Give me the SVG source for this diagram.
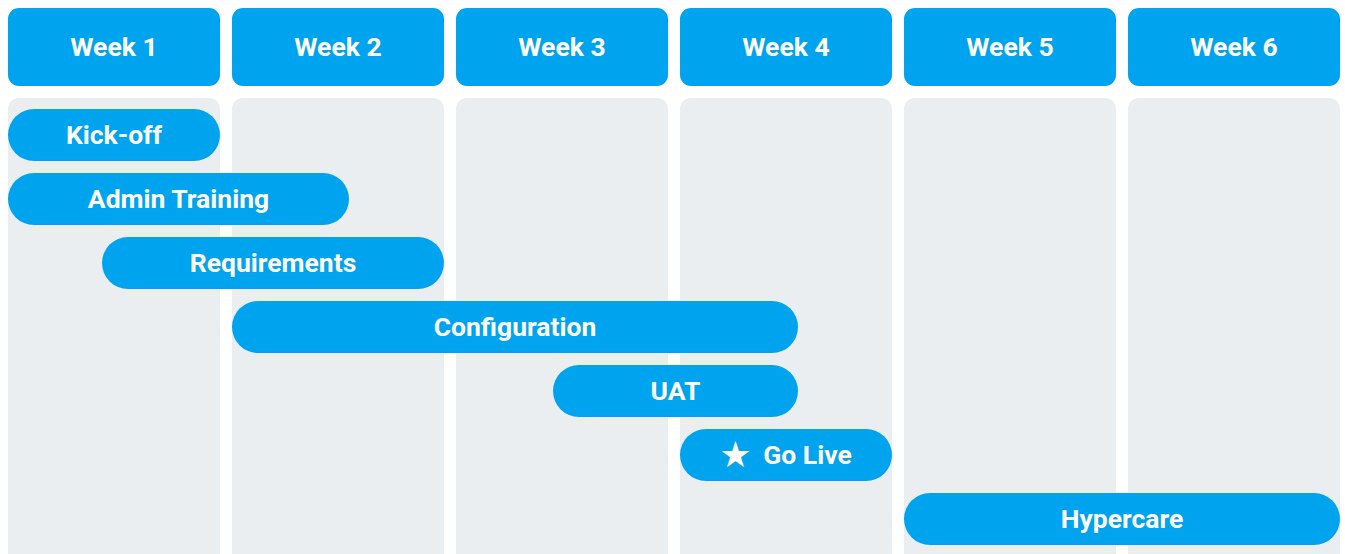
<svg xmlns="http://www.w3.org/2000/svg" width="1345" height="554" viewBox="0 0 1345 554">
<style>
.hd{fill:#00A3EE}
.col{fill:#EAEEF1}
.bar{fill:#00A3EE}
text{font-family:Roboto,"Liberation Sans",sans-serif;font-weight:700;font-size:26.5px;fill:#fff;text-anchor:middle;dominant-baseline:central}
</style>
<g id="columns">
<rect class="col" x="8" y="98" width="212" height="470" rx="11"/>
<rect class="col" x="232" y="98" width="212" height="470" rx="11"/>
<rect class="col" x="456" y="98" width="212" height="470" rx="11"/>
<rect class="col" x="680" y="98" width="212" height="470" rx="11"/>
<rect class="col" x="904" y="98" width="212" height="470" rx="11"/>
<rect class="col" x="1128" y="98" width="212" height="470" rx="11"/>
</g>
<g id="week1"><rect class="hd" x="8" y="8" width="212" height="78" rx="11"/><text x="114" y="46">Week 1</text></g>
<g id="week2"><rect class="hd" x="232" y="8" width="212" height="78" rx="11"/><text x="338" y="46">Week 2</text></g>
<g id="week3"><rect class="hd" x="456" y="8" width="212" height="78" rx="11"/><text x="562" y="46">Week 3</text></g>
<g id="week4"><rect class="hd" x="680" y="8" width="212" height="78" rx="11"/><text x="786" y="46">Week 4</text></g>
<g id="week5"><rect class="hd" x="904" y="8" width="212" height="78" rx="11"/><text x="1010" y="46">Week 5</text></g>
<g id="week6"><rect class="hd" x="1128" y="8" width="212" height="78" rx="11"/><text x="1234" y="46">Week 6</text></g>
<g id="kickoff"><rect class="bar" x="8" y="109" width="212" height="52" rx="26"/><text x="114" y="134">Kick-off</text></g>
<g id="admin"><rect class="bar" x="8" y="173" width="341" height="52" rx="26"/><text x="178.5" y="198">Admin Training</text></g>
<g id="requirements"><rect class="bar" x="102" y="237" width="342" height="52" rx="26"/><text x="273" y="262">Requirements</text></g>
<g id="configuration"><rect class="bar" x="232" y="301" width="566" height="52" rx="26"/><text x="515" y="326">Configuration</text></g>
<g id="uat"><rect class="bar" x="553" y="365" width="245" height="52" rx="26"/><text x="675.5" y="390">UAT</text></g>
<g id="golive"><rect class="bar" x="680" y="429" width="212" height="52" rx="26"/><text x="807.5" y="454">Go Live</text><text x="735.5" y="454" style="font-size:36px;font-family:'DejaVu Sans',sans-serif">★</text></g>
<g id="hypercare"><rect class="bar" x="904" y="493" width="436" height="52" rx="26"/><text x="1122" y="518">Hypercare</text></g>
<g id="connectors"/>
</svg>
